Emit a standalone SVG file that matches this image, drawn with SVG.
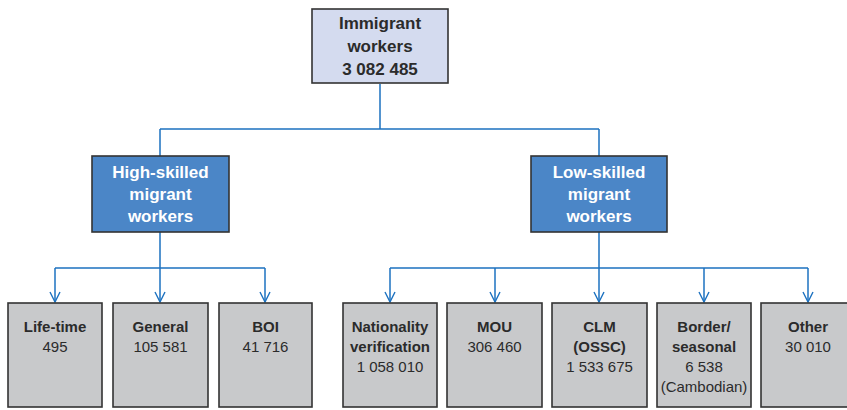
<svg xmlns="http://www.w3.org/2000/svg" width="847" height="410" viewBox="0 0 847 410">
<defs>
<marker id="arr" viewBox="0 0 12 12" refX="11" refY="6" markerWidth="12" markerHeight="12" markerUnits="userSpaceOnUse" orient="auto">
<path d="M1,1 L11,6 L1,11" fill="none" stroke="#1d72c0" stroke-width="1.4"/>
</marker>
</defs>
<style>
.box{stroke:#333;stroke-width:1.6}
.top{fill:#d4dbef}
.mid{fill:#4b86c7}
.bot{fill:#c8c9cb}
.c{fill:none;stroke:#1d72c0;stroke-width:1.5}
text{font-family:"Liberation Sans",Arial,sans-serif;text-anchor:middle}
.t1{font-size:17px;font-weight:bold;fill:#2b2b2b}
.t2{font-size:17px;font-weight:bold;fill:#fff}
.lb{font-size:15px;font-weight:bold;fill:#2b2b2b}
.nm{font-size:15px;fill:#2b2b2b}
</style>
<g id="connectors">
<path class="c" d="M380,84 V129 M160,129 H599 M160,129 V156 M599,129 V156"/>
<path class="c" d="M160,232 V268 M55,268 H265 M599,232 V268 M390,268 H808"/>
<path class="c" d="M55,268 V302" marker-end="url(#arr)"/>
<path class="c" d="M160,268 V302" marker-end="url(#arr)"/>
<path class="c" d="M265,268 V302" marker-end="url(#arr)"/>
<path class="c" d="M390,268 V302" marker-end="url(#arr)"/>
<path class="c" d="M495,268 V302" marker-end="url(#arr)"/>
<path class="c" d="M599,268 V302" marker-end="url(#arr)"/>
<path class="c" d="M704,268 V302" marker-end="url(#arr)"/>
<path class="c" d="M808,268 V302" marker-end="url(#arr)"/>
</g>
<g id="immigrant">
<rect class="box top" x="312" y="9" width="136" height="74"/>
<text class="t1" x="380" y="29">Immigrant</text>
<text class="t1" x="380" y="52">workers</text>
<text class="t1" x="380" y="75">3 082 485</text>
</g>
<g id="high">
<rect class="box mid" x="92" y="156" width="137" height="76"/>
<text class="t2" x="160.5" y="178">High-skilled</text>
<text class="t2" x="160.5" y="200">migrant</text>
<text class="t2" x="160.5" y="222">workers</text>
</g>
<g id="low">
<rect class="box mid" x="531" y="156" width="136" height="76"/>
<text class="t2" x="599" y="178">Low-skilled</text>
<text class="t2" x="599" y="200">migrant</text>
<text class="t2" x="599" y="222">workers</text>
</g>
<g id="lifetime">
<rect class="box bot" x="8" y="303" width="94" height="104"/>
<text class="lb" x="55" y="332">Life-time</text>
<text class="nm" x="55" y="352">495</text>
</g>
<g id="general">
<rect class="box bot" x="113" y="303" width="95" height="104"/>
<text class="lb" x="160.5" y="332">General</text>
<text class="nm" x="160.5" y="352">105 581</text>
</g>
<g id="boi">
<rect class="box bot" x="219" y="303" width="93" height="104"/>
<text class="lb" x="265.5" y="332">BOI</text>
<text class="nm" x="265.5" y="352">41 716</text>
</g>
<g id="nationality">
<rect class="box bot" x="343" y="303" width="94" height="104"/>
<text class="lb" x="390" y="332">Nationality</text>
<text class="lb" x="390" y="352">verification</text>
<text class="nm" x="390" y="372">1 058 010</text>
</g>
<g id="mou">
<rect class="box bot" x="447" y="303" width="95" height="104"/>
<text class="lb" x="494.5" y="332">MOU</text>
<text class="nm" x="494.5" y="352">306 460</text>
</g>
<g id="clm">
<rect class="box bot" x="552" y="303" width="95" height="104"/>
<text class="lb" x="599.5" y="332">CLM</text>
<text class="lb" x="599.5" y="352">(OSSC)</text>
<text class="nm" x="599.5" y="372">1 533 675</text>
</g>
<g id="border">
<rect class="box bot" x="657" y="303" width="94" height="104"/>
<text class="lb" x="704" y="332">Border/</text>
<text class="lb" x="704" y="352">seasonal</text>
<text class="nm" x="704" y="372">6 538</text>
<text class="nm" x="704" y="392">(Cambodian)</text>
</g>
<g id="other">
<rect class="box bot" x="761" y="303" width="94" height="104"/>
<text class="lb" x="808" y="332">Other</text>
<text class="nm" x="808" y="352">30 010</text>
</g>
</svg>
